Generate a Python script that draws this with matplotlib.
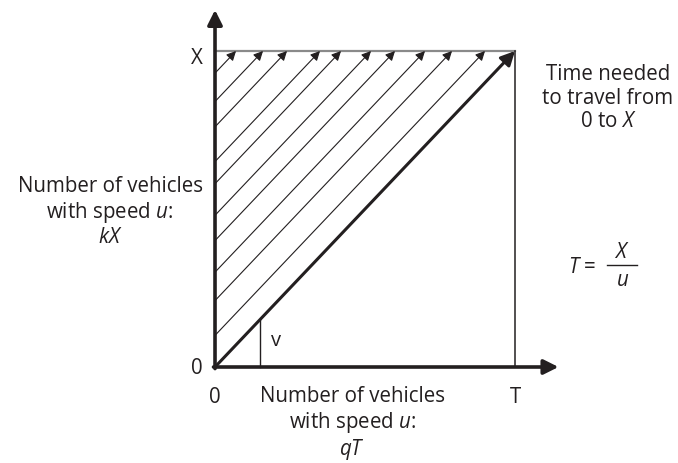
import matplotlib
matplotlib.use("Agg")
import matplotlib.pyplot as plt

plt.rcParams['font.family'] = ['Open Sans', 'DejaVu Sans']
plt.rcParams['mathtext.fontset'] = 'custom'
plt.rcParams['mathtext.rm'] = 'Open Sans'
plt.rcParams['mathtext.it'] = 'Open Sans:italic'

# diagram values (T = 1, X = 1)
T_end = 1.0
X_top = 1.0
# heights where the thin vehicle trajectories start on the y axis
thin_starts = [0.93, 0.84, 0.76, 0.65, 0.58, 0.48, 0.40, 0.30, 0.21, 0.10]
v_x = 0.15

fig = plt.figure(figsize=(6.78, 4.64), dpi=100)
ax = fig.add_axes([0, 0, 1, 1])
ax.set_xlim(-0.7167, 1.5433)
ax.set_ylim(-0.3038, 1.1646)
ax.axis('off')

ink = '#231f20'

def arrow(x0, y0, x1, y1, lw, scale):
    ax.annotate('', xy=(x1, y1), xytext=(x0, y0),
                arrowprops=dict(arrowstyle='-|>', lw=lw, color=ink,
                                mutation_scale=scale, shrinkA=0, shrinkB=0))

# axes
arrow(-0.005, 0, 1.145, 0, 2.6, 22)
arrow(0, -0.005, 0, 1.13, 2.6, 22)

# box
ax.plot([0, T_end], [X_top, X_top], color='#8a8a8a', lw=1.6)
ax.plot([T_end, T_end], [0, X_top], color=ink, lw=1.1)

# thin trajectories
for y0 in thin_starts:
    arrow(0, y0, X_top - y0, X_top, 0.8, 14)

# main trajectory
arrow(0, 0, T_end, X_top, 2.2, 21)

# v marker
ax.plot([v_x, v_x], [0, v_x], color=ink, lw=1.0)
ax.text(v_x + 0.035, 0.085, 'v', fontsize=14.5, color=ink, ha='left', va='center')

fs = 14.8
ax.text(-0.06, X_top - 0.02, 'X', fontsize=fs, color=ink, ha='center', va='center')
ax.text(-0.06, 0, '0', fontsize=fs, color=ink, ha='center', va='center')
ax.text(0, -0.093, '0', fontsize=fs, color=ink, ha='center', va='center')
ax.text(T_end, -0.093, 'T', fontsize=fs, color=ink, ha='center', va='center')

ax.text(-0.35, 0.494, 'Number of vehicles\nwith speed $u$:\n$kX$', fontsize=fs,
        color=ink, ha='center', va='center', linespacing=1.15)
ax.text(0.457, -0.178, 'Number of vehicles\nwith speed $u$:\n$qT$', fontsize=fs,
        color=ink, ha='center', va='center', linespacing=1.15)
ax.text(1.31, 0.854, 'Time needed\nto travel from\n0 to $X$', fontsize=fs,
        color=ink, ha='center', va='center', linespacing=1.15)

# T = X / u
ax.text(1.223, 0.318, '$T$ =', fontsize=fs, color=ink, ha='center', va='center')
ax.text(1.357, 0.367, '$X$', fontsize=fs, color=ink, ha='center', va='center')
ax.text(1.357, 0.278, '$u$', fontsize=fs, color=ink, ha='center', va='center')
ax.plot([1.307, 1.407], [0.323, 0.323], color=ink, lw=1.0)

fig.savefig('out.png', dpi=100)
